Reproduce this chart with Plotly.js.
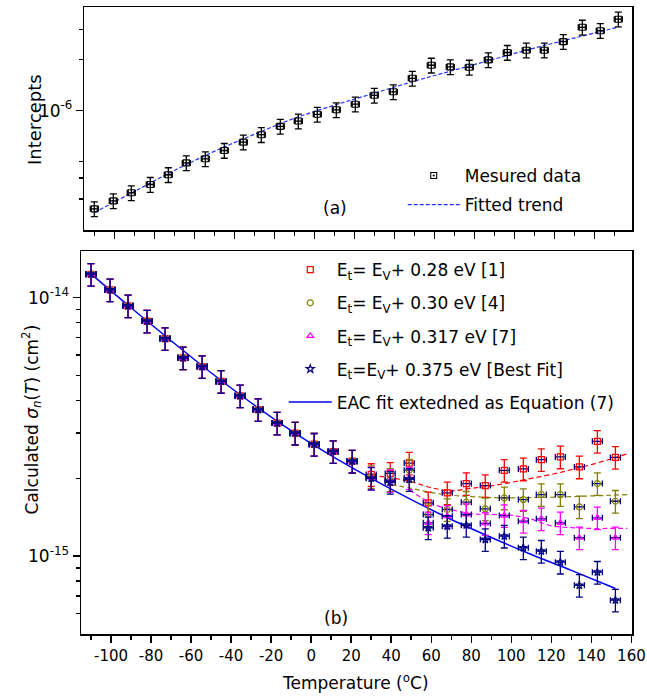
<!DOCTYPE html>
<html>
<head>
<meta charset="utf-8">
<script src="https://cdn.plot.ly/plotly-3.0.1.min.js"></script>
<style>html,body{margin:0;padding:0;background:#fff;}#chart{width:647px;height:698px;}</style>
</head>
<body>
<div id="chart"></div>
<script>
// ---- Data ----
const temperature = [-110,-100.5,-91.5,-82,-73,-64,-54.5,-45,-35.5,-26.5,-17,-8,1.5,11,20.5,30,39.5,49,58.5,68,77.5,87,96.5,106,115,124.5,134,143,152];

const intercepts = [2.63e-7,2.93e-7,3.27e-7,3.66e-7,4.18e-7,4.91e-7,5.19e-7,5.81e-7,6.51e-7,7.20e-7,8.07e-7,8.67e-7,9.50e-7,1.01e-6,1.09e-6,1.23e-6,1.29e-6,1.55e-6,1.85e-6,1.81e-6,1.80e-6,1.99e-6,2.20e-6,2.27e-6,2.27e-6,2.55e-6,3.10e-6,2.96e-6,3.46e-6];

const trendT = [-110,-90,-70,-50,-30,-10,10,30,50,70,90,110,130,152];
const trend = [2.50e-7,3.33e-7,4.43e-7,5.74e-7,7.24e-7,9.00e-7,1.075e-6,1.266e-6,1.491e-6,1.732e-6,2.012e-6,2.337e-6,2.678e-6,3.11e-6];

const sigma028 = [1.231e-14,1.071e-14,9.29e-15,8.11e-15,6.94e-15,5.85e-15,5.41e-15,4.74e-15,4.17e-15,3.69e-15,3.27e-15,2.99e-15,2.71e-15,2.54e-15,2.33e-15,
  2.07e-15,2.09e-15,2.29e-15,1.608e-15,1.757e-15,1.909e-15,1.875e-15,2.148e-15,2.175e-15,2.362e-15,2.42e-15,2.214e-15,2.78e-15,2.41e-15];
const sigma030 = [1.231e-14,1.071e-14,9.29e-15,8.11e-15,6.94e-15,5.85e-15,5.41e-15,4.74e-15,4.17e-15,3.69e-15,3.27e-15,2.99e-15,2.71e-15,2.54e-15,2.33e-15,
  2.03e-15,1.98e-15,2.15e-15,1.449e-15,1.515e-15,1.617e-15,1.524e-15,1.680e-15,1.655e-15,1.730e-15,1.730e-15,1.551e-15,1.909e-15,1.631e-15];
const sigma0317 = [1.231e-14,1.071e-14,9.29e-15,8.11e-15,6.94e-15,5.85e-15,5.41e-15,4.74e-15,4.17e-15,3.69e-15,3.27e-15,2.99e-15,2.71e-15,2.54e-15,2.33e-15,
  2.01e-15,1.96e-15,2.01e-15,1.346e-15,1.427e-15,1.449e-15,1.338e-15,1.436e-15,1.365e-15,1.395e-15,1.346e-15,1.178e-15,1.407e-15,1.178e-15];
const sigma0375 = [1.231e-14,1.071e-14,9.29e-15,8.11e-15,6.94e-15,5.85e-15,5.41e-15,4.74e-15,4.17e-15,3.69e-15,3.27e-15,2.99e-15,2.71e-15,2.54e-15,2.33e-15,
  2.00e-15,1.93e-15,1.98e-15,1.287e-15,1.305e-15,1.317e-15,1.160e-15,1.195e-15,1.077e-15,1.045e-15,9.48e-16,7.71e-16,8.67e-16,6.76e-16];

const eacT = [-110,-90,-70,-50,-30,-10,10,30,50,70,90,110,130,152];
const eacFit = [1.235e-14,9.13e-15,6.81e-15,5.12e-15,3.92e-15,3.06e-15,2.45e-15,2.00e-15,1.655e-15,1.386e-15,1.181e-15,1.015e-15,8.81e-16,7.50e-16];

const fit028T = [30,40,50,60,70,80,90,100,110,120,130,140,150,158];
const fit028 = [2.05e-15,2.01e-15,1.94e-15,1.84e-15,1.79e-15,1.83e-15,1.87e-15,1.93e-15,2.00e-15,2.07e-15,2.16e-15,2.26e-15,2.38e-15,2.49e-15];
const fit030T = [40,50,60,70,80,90,100,110,120,130,140,150,158];
const fit030 = [1.89e-15,1.83e-15,1.76e-15,1.72e-15,1.70e-15,1.685e-15,1.68e-15,1.685e-15,1.69e-15,1.70e-15,1.71e-15,1.72e-15,1.73e-15];
const fit0317T = [49,60,70,80,90,100,110,120,130,140,150,158];
const fit0317 = [1.81e-15,1.60e-15,1.515e-15,1.46e-15,1.45e-15,1.44e-15,1.39e-15,1.31e-15,1.29e-15,1.28e-15,1.28e-15,1.28e-15];

const xTicks = [-100,-80,-60,-40,-20,0,20,40,60,80,100,120,140,160];
const xMinor = [-110,-90,-70,-50,-30,-10,10,30,50,70,90,110,130,150];

const legendNames = [
  'E<sub>t</sub>= E<sub>V</sub>+ 0.28 eV [1]',
  'E<sub>t</sub>= E<sub>V</sub>+ 0.30 eV [4]',
  'E<sub>t</sub>= E<sub>V</sub>+ 0.317 eV [7]',
  'E<sub>t</sub>=E<sub>V</sub>+ 0.375 eV [Best Fit]',
  'EAC fit extedned as Equation (7)'
];

// ---- Styling ----
const FONT = 'DejaVu Sans';
const RED = '#ff0000', OLIVE = '#808000', MAG = '#ff00ff', NAVY = '#000080', BLUE = '#0000ff';

function pointTrace(y, color, symbol, name, rank) {
  return {
    x: temperature, y: y, type: 'scatter', mode: 'markers', name: name,
    xaxis: 'x', yaxis: 'y', legend: 'legend', legendrank: rank, legendgroup: 'g' + rank,
    marker: {symbol: symbol, size: 6, color: color, line: {color: color, width: 1.2}},
    error_y: {type: 'percent', value: 10, color: color, thickness: 1.3, width: 3.5},
    error_x: {type: 'constant', value: 2.5, color: NAVY, thickness: 1.3, width: 3}
  };
}
function fitTrace(x, y, color) {
  return {x: x, y: y, type: 'scatter', mode: 'lines', xaxis: 'x', yaxis: 'y', showlegend: false,
    hoverinfo: 'skip', line: {color: color, width: 1.2, dash: '5px,3px', shape: 'spline'}};
}

const traces = [
  fitTrace(fit028T, fit028, RED),
  fitTrace(fit030T, fit030, OLIVE),
  fitTrace(fit0317T, fit0317, MAG),
  {x: eacT, y: eacFit, type: 'scatter', mode: 'lines', name: legendNames[4], xaxis: 'x', yaxis: 'y',
   legend: 'legend', legendrank: 5, legendgroup: 'g5', line: {color: BLUE, width: 1.5, shape: 'spline'}},
  pointTrace(sigma028, RED, 'square-open', legendNames[0], 1),
  pointTrace(sigma030, OLIVE, 'circle-open', legendNames[1], 2),
  pointTrace(sigma0317, MAG, 'triangle-up-open', legendNames[2], 3),
  pointTrace(sigma0375, NAVY, 'star-open', legendNames[3], 4),
  // top panel
  {x: trendT, y: trend, type: 'scatter', mode: 'lines', name: 'Fitted trend', xaxis: 'x2', yaxis: 'y2',
   legend: 'legend2', legendrank: 2, legendgroup: 't2', line: {color: '#2233ff', width: 1.2, dash: '4px,2px', shape: 'spline'}},
  {x: temperature, y: intercepts, type: 'scatter', mode: 'markers', name: 'Mesured data', xaxis: 'x2', yaxis: 'y2',
   legend: 'legend2', legendrank: 1, legendgroup: 't1',
   marker: {symbol: 'square-open-dot', size: 6, color: '#000', line: {color: '#000', width: 1.1}},
   error_y: {type: 'percent', value: 10, color: '#000', thickness: 1.3, width: 3.5},
   error_x: {type: 'constant', value: 2, color: '#000', thickness: 1.3, width: 3}}
];

const axBase = {
  showgrid: false, zeroline: false, showline: true, linecolor: '#000', linewidth: 1.5, mirror: true,
  ticks: 'outside', ticklen: 7, tickwidth: 1.5, tickcolor: '#000'
};
const minorX = {tickmode: 'array', tickvals: xMinor, ticks: 'outside', ticklen: 4, tickwidth: 1.5, tickcolor: '#000'};

const layout = {
  width: 647, height: 698,
  margin: {l: 81, r: 15, t: 7, b: 64, pad: 0},
  paper_bgcolor: '#fff', plot_bgcolor: '#fff',
  font: {family: FONT, color: '#000', size: 16},
  showlegend: true,
  xaxis: Object.assign({}, axBase, {
    domain: [0, 1], anchor: 'y', range: [-115, 160.3],
    tickmode: 'array', tickvals: xTicks, ticktext: xTicks.map(String),
    tickfont: {family: FONT, size: 15}, minor: minorX
  }),
  yaxis: Object.assign({}, axBase, {
    domain: [0, 0.6108], anchor: 'x', type: 'log', range: [-15.301, -13.82],
    tickmode: 'array', tickvals: [1e-15, 1e-14], ticktext: ['10<sup>-15</sup>', '10<sup>-14</sup>'],
    tickfont: {family: FONT, size: 17},
    minor: {tickmode: 'array', tickvals: [6e-16,7e-16,8e-16,9e-16,2e-15,3e-15,4e-15,5e-15,6e-15,7e-15,8e-15,9e-15],
            ticks: 'outside', ticklen: 4, tickwidth: 1.5, tickcolor: '#000'}
  }),
  xaxis2: Object.assign({}, axBase, {
    domain: [0.006, 1], anchor: 'y2', range: [-115, 158.85],
    tickmode: 'array', tickvals: xTicks, showticklabels: false, minor: minorX
  }),
  yaxis2: Object.assign({}, axBase, {
    domain: [0.6443, 1], anchor: 'x2', type: 'log', range: [-6.705, -5.389],
    tickmode: 'array', tickvals: [1e-6], ticktext: ['10<sup>-6</sup>'],
    tickfont: {family: FONT, size: 17},
    minor: {tickmode: 'array', tickvals: [3e-7,4e-7,5e-7,2e-6,3e-6],
            ticks: 'outside', ticklen: 4, tickwidth: 1.5, tickcolor: '#000'}
  }),
  legend: {x: 0.368, y: 0.609, xanchor: 'left', yanchor: 'top', bgcolor: 'rgba(0,0,0,0)',
           font: {family: FONT, size: 17}, traceorder: 'grouped', tracegroupgap: 8, itemwidth: 43},
  legend2: {x: 0.5839, y: 0.7592, xanchor: 'left', yanchor: 'top', bgcolor: 'rgba(0,0,0,0)',
            font: {family: FONT, size: 17}, traceorder: 'grouped', tracegroupgap: 4, itemwidth: 52},
  annotations: [
    {text: '(a)', xref: 'paper', yref: 'paper', x: 0.461, y: 0.6794, showarrow: false,
     font: {family: FONT, size: 17}, xanchor: 'center', yanchor: 'middle'},
    {text: '(b)', xref: 'paper', yref: 'paper', x: 0.4628, y: 0.0255, showarrow: false,
     font: {family: FONT, size: 17}, xanchor: 'center', yanchor: 'middle'},
    {text: 'Intercepts', xref: 'paper', yref: 'paper', x: -0.0835, y: 0.8214, textangle: -90, showarrow: false,
     font: {family: FONT, size: 18}, xanchor: 'center', yanchor: 'middle'},
    {text: 'Calculated <i>σ<sub>n</sub></i>(<i>T</i>) (cm<sup>2</sup>)', xref: 'paper', yref: 'paper',
     x: -0.089, y: 0.3421, textangle: -90, showarrow: false,
     font: {family: FONT, size: 17}, xanchor: 'center', yanchor: 'middle'},
    {text: 'Temperature (<sup>o</sup>C)', xref: 'paper', yref: 'paper', x: 0.4973, y: -0.0766, showarrow: false,
     font: {family: FONT, size: 17}, xanchor: 'center', yanchor: 'middle'}
  ]
};

Plotly.newPlot('chart', traces, layout, {displayModeBar: false, staticPlot: true});
</script>
</body>
</html>
